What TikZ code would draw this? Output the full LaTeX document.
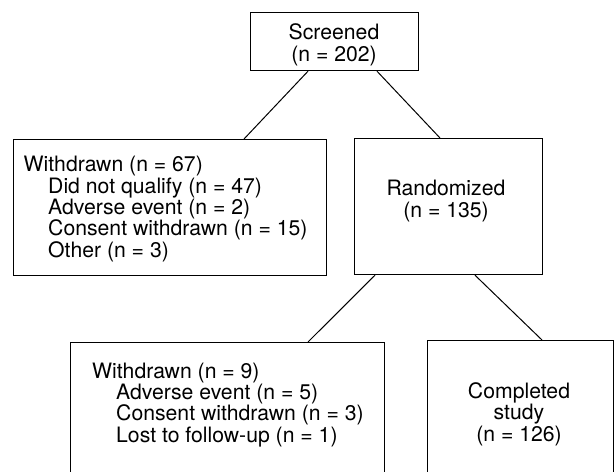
\documentclass[tikz,border=0pt]{standalone}
\usepackage{fontspec}
\setmainfont{TeX Gyre Heros}
\usetikzlibrary{calc}
\begin{document}
\begin{tikzpicture}[x=1pt,y=-1pt,
  boxshape/.style={draw, line width=1.2pt, inner sep=0pt, anchor=north west, rectangle},
  txt/.style={inner sep=0pt, font=\fontsize{21.2}{21.3}\selectfont},
  link/.style={line width=1pt}]
\useasboundingbox (0,0) rectangle (615,471);
\clip (0,0) rectangle (615,471);
% boxes
\node[boxshape, minimum width=168pt, minimum height=58pt] (scr) at (250,12) {};
\node[boxshape, minimum width=313pt, minimum height=136pt] (w67) at (13,139) {};
\node[boxshape, minimum width=188pt, minimum height=136pt] (rand) at (354,138) {};
\node[boxshape, minimum width=314pt, minimum height=170pt] (w9) at (70,342) {};
\node[boxshape, minimum width=186pt, minimum height=170pt] (comp) at (427,340) {};
% texts (base anchor = baseline of the last line)
\node[txt, align=center, anchor=base] (scrt) at (334,61) {Screened\\(n = 202)};
\node[txt, align=left, anchor=base west] (w67t) at (23.5,257) {Withdrawn (n = 67)\\
  \hspace*{24.5pt}Did not qualify (n = 47)\\
  \hspace*{24.5pt}Adverse event (n = 2)\\
  \hspace*{24.5pt}Consent withdrawn (n = 15)\\
  \hspace*{24.5pt}Other (n = 3)};
\node[txt, align=center, anchor=base] (randt) at (446,217) {Randomized\\(n = 135)};
\node[txt, align=left, anchor=base west] (w9t) at (92,442) {Withdrawn (n = 9)\\
  \hspace*{24pt}Adverse event (n = 5)\\
  \hspace*{24pt}Consent withdrawn (n = 3)\\
  \hspace*{24pt}Lost to follow-up (n = 1)};
\node[txt, align=center, anchor=base] (compt) at (519,441) {Completed\\study\\(n = 126)};
% connectors
\draw[link] ($(scr.south west)+(58,0)$) -- ($(w67.north west)+(231,0)$);
\draw[link] ($(scr.south west)+(127,0)$) -- ($(rand.north west)+(86,0)$);
\draw[link] ($(rand.south west)+(21,0)$) -- ($(w9.north west)+(238,0)$);
\draw[link] ($(rand.south west)+(121,0)$) -- ($(comp.north west)+(115,0)$);
\end{tikzpicture}
\end{document}
